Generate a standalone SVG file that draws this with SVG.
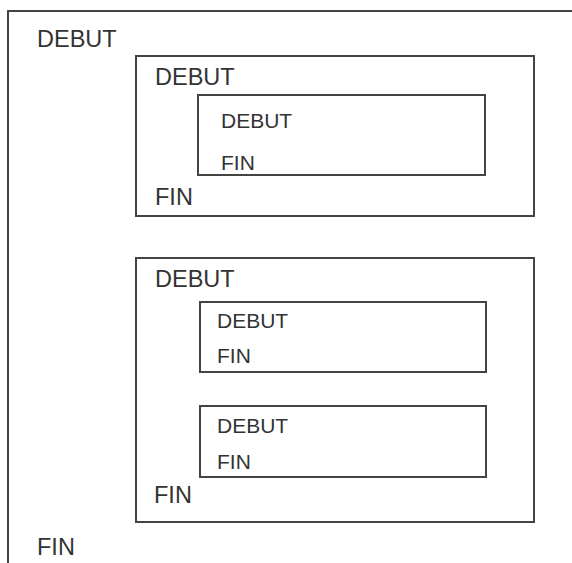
<svg xmlns="http://www.w3.org/2000/svg" width="572" height="563" viewBox="0 0 572 563">
<style>
.box{fill:none;stroke:#444;stroke-width:2}
.t{font-family:"Liberation Sans",Arial,sans-serif;fill:#333;font-size:23.5px}
.s{font-family:"Liberation Sans",Arial,sans-serif;fill:#333;font-size:21px}
</style>
<rect width="572" height="563" fill="#fff"/>
<g id="outer">
<rect class="box" x="8" y="11" width="580" height="580"/>
<text class="t" x="37" y="47">DEBUT</text>
<text class="t" x="37" y="555">FIN</text>
</g>
<g id="boxA">
<rect class="box" x="136" y="56" width="398" height="160"/>
<text class="t" x="155" y="85">DEBUT</text>
<text class="t" x="155" y="205">FIN</text>
</g>
<g id="boxA1">
<rect class="box" x="198" y="95" width="287" height="80"/>
<text class="s" x="221" y="128">DEBUT</text>
<text class="s" x="221" y="170">FIN</text>
</g>
<g id="boxB">
<rect class="box" x="136" y="258" width="398" height="264"/>
<text class="t" x="155" y="287">DEBUT</text>
<text class="t" x="154" y="503">FIN</text>
</g>
<g id="boxB1">
<rect class="box" x="200" y="302" width="286" height="70"/>
<text class="s" x="217" y="328">DEBUT</text>
<text class="s" x="217" y="363">FIN</text>
</g>
<g id="boxB2">
<rect class="box" x="200" y="406" width="286" height="71"/>
<text class="s" x="217" y="433">DEBUT</text>
<text class="s" x="217" y="469">FIN</text>
</g>
<g id="connectors"/>
</svg>
